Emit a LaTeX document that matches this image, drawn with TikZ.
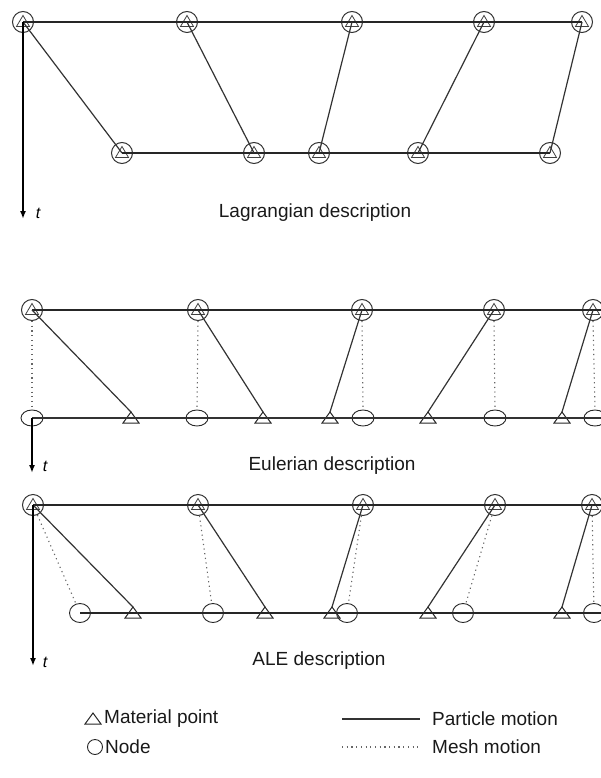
\documentclass[tikz,border=0pt]{standalone}
\usepackage{fontspec}
\setmainfont{Liberation Sans}
\usetikzlibrary{arrows.meta,shapes.geometric,calc}
\newcommand\mattri[3]{%
  \coordinate (#1) at (#2,#3);
  \draw[matline] ($(#1)+(-8pt,-5pt)$) -- ($(#1)+(8pt,-5pt)$) -- ($(#1)+(0pt,6pt)$) -- cycle;
  \coordinate (#1a) at ($(#1)+(0pt,6pt)$);}
\begin{document}
\begin{tikzpicture}[x=1pt,y=-1pt,
  both/.style={circle,draw=black!80,line width=1pt,minimum size=21pt,inner sep=0pt,
     path picture={\draw[line width=0.8pt,black!75] ($(path picture bounding box.center)+(0pt,6.5pt)$) -- ++(-6.5pt,-11pt) -- ++(13pt,0pt) -- cycle;}},
  meshE/.style={ellipse,draw=black!85,line width=0.9pt,minimum width=22pt,minimum height=16pt,inner sep=0pt},
  meshA/.style={ellipse,draw=black!85,line width=0.9pt,minimum width=21pt,minimum height=19pt,inner sep=0pt},
  matline/.style={draw=black!85,line width=1pt},
  hline/.style={draw=black!85,line width=1.8pt},
  pline/.style={draw=black!80,line width=1.2pt},
  mline/.style={draw=black!60,line width=1.1pt,dash pattern=on 1.2pt off 3.5pt},
  axis/.style={draw=black,line width=1.8pt,-{Latex[length=8pt,width=6pt]}},
  tlab/.style={font=\fontsize{16}{18}\selectfont\itshape,inner sep=0pt},
  title/.style={font=\fontsize{19}{22}\selectfont,inner sep=0pt,text=black!90},
  leg/.style={font=\fontsize{19}{22}\selectfont,inner sep=0pt,anchor=west,text=black!90}]
\useasboundingbox (0,0) rectangle (601,778);
\begin{scope}
\clip (0,0) rectangle (601,778);
% ---------------- Lagrangian
\foreach \n/\x in {1/23,2/187,3/352,4/484,5/582} \node[both] (L\n) at (\x,22) {};
\foreach \n/\x in {1/122,2/254,3/319,4/418,5/550} \node[both] (M\n) at (\x,153) {};
\draw[hline] (L1.center) -- (L5.center);
\draw[hline] (M1.center) -- (M5.center);
\foreach \n in {1,...,5} \draw[pline] (L\n.center) -- (M\n.center);
\coordinate (La) at (23,219);
\draw[axis] (L1.center) -- (La);
\node[tlab] (Lt) at (38,213) {t};
\node[title] (Ltitle) at (315,213) {Lagrangian description};
% ---------------- Eulerian
\foreach \n/\x in {1/32,2/198,3/362,4/494,5/593} \node[both] (E\n) at (\x,310) {};
\foreach \n/\x in {1/32,2/197,3/363,4/495,5/595} \node[meshE] (F\n) at (\x,418) {};
\mattri{T1}{131}{418}
\mattri{T2}{263}{418}
\mattri{T3}{330}{418}
\mattri{T4}{428}{418}
\mattri{T5}{562}{418}
\coordinate (Eend) at (605,310);
\coordinate (Fend) at (605,418);
\draw[hline] (E1.center) -- (Eend);
\draw[pline,line width=1.5pt] (F1.center) -- (Fend);
\foreach \n in {1,...,5} {
  \draw[pline] (E\n.center) -- (T\n a);
  \draw[mline] (E\n.south) -- (F\n.north);
}
\coordinate (Ea) at (32,473);
\draw[axis] (F1.center) -- (Ea);
\node[tlab] (Et) at (45,466) {t};
\node[title] (Etitle) at (332,466) {Eulerian description};
% ---------------- ALE
\foreach \n/\x in {1/33,2/198,3/363,4/495,5/592} \node[both] (A\n) at (\x,505) {};
\foreach \n/\x in {1/80,2/213,3/347,4/463,5/594} \node[meshA] (B\n) at (\x,613) {};
\mattri{U1}{133}{613}
\mattri{U2}{265}{613}
\mattri{U3}{332}{613}
\mattri{U4}{428}{613}
\mattri{U5}{562}{613}
\coordinate (Aend) at (605,505);
\coordinate (Bend) at (605,613);
\draw[hline] (A1.center) -- (Aend);
\draw[hline] (B1.center) -- (Bend);
\foreach \n in {1,...,5} {
  \draw[pline] (A\n.center) -- (U\n a);
  \draw[mline] (A\n) -- (B\n);
}
\coordinate (Aa) at (33,666);
\draw[axis] (A1.center) -- (Aa);
\node[tlab] (At) at (45,662) {t};
\node[title] (Atitle) at (319,661) {ALE description};
% ---------------- legend
\mattri{Gt}{93}{719}
\node[leg] (Gtl) at (104,719) {Material point};
\node[circle,draw=black!85,line width=0.9pt,minimum size=15pt,inner sep=0pt] (Gc) at (95,747) {};
\node[leg] (Gcl) at (105,747) {Node};
\coordinate (P1) at (342,719);
\coordinate (P2) at (420,719);
\draw[pline] (P1) -- (P2);
\node[leg] (Pl) at (432,719) {Particle motion};
\coordinate (Q1) at (342,747);
\coordinate (Q2) at (420,747);
\draw[mline] (Q1) -- (Q2);
\node[leg] (Ql) at (432,747) {Mesh motion};
\end{scope}
\end{tikzpicture}
\end{document}
